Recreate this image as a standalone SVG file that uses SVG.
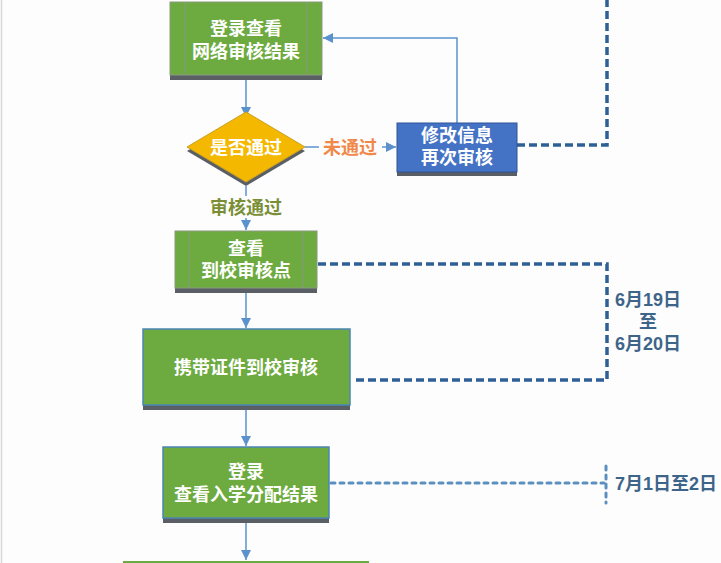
<svg xmlns="http://www.w3.org/2000/svg" width="721" height="563" viewBox="0 0 721 563">
<defs>
<marker id="arr" viewBox="0 0 10 10" refX="10" refY="5" markerWidth="10" markerHeight="10" markerUnits="userSpaceOnUse" orient="auto">
<path d="M0,0 L10,5 L0,10 Z" fill="#5B92CC"/>
</marker>
</defs>
<style>
.bg{fill:#FDFDFD}
.g{fill:#6DAA3F}
.gs{stroke:#8A9A80;stroke-width:1}
.gb{stroke:#4B86B4;stroke-width:1.5}
.sh{fill:#5A5F66}
.in{stroke:#889880;stroke-width:1;fill:none}
.t{font-family:"Liberation Sans","Noto Sans CJK SC",sans-serif;font-weight:bold;font-size:18px;text-anchor:middle;dominant-baseline:central}
.w{fill:#FFFFFF}
.c{fill:none;stroke:#5B92CC;stroke-width:1.5}
.d1{fill:none;stroke:#2E6096;stroke-width:3.5;stroke-dasharray:8 4}
.d2{fill:none;stroke:#5B8FC0;stroke-width:3;stroke-dasharray:4 5;stroke-linecap:round}
.date{fill:#3D6489}
</style>
<rect class="bg" x="0" y="0" width="721" height="563"/>
<line x1="1.5" y1="0" x2="1.5" y2="563" stroke="#D8DAD4" stroke-width="1.5"/>

<g id="connectors">
<line class="c" x1="246" y1="80" x2="246" y2="117" marker-end="url(#arr)"/>
<line class="c" x1="305" y1="147" x2="396" y2="147" marker-end="url(#arr)"/>
<rect x="319" y="136" width="63" height="22" class="bg"/>
<text class="t" x="350" y="148" fill="#F0884A">未通过</text>
<path class="c" d="M457,123 V38 H323" marker-end="url(#arr)"/>
<line class="c" x1="246" y1="186" x2="246" y2="230" marker-end="url(#arr)"/>
<rect x="205" y="196" width="82" height="22" class="bg"/>
<text class="t" x="246" y="208" fill="#7A8F35">审核通过</text>
<line class="c" x1="246" y1="293" x2="246" y2="328" marker-end="url(#arr)"/>
<line class="c" x1="246" y1="410" x2="246" y2="446" marker-end="url(#arr)"/>
<line class="c" x1="246" y1="523" x2="246" y2="560" marker-end="url(#arr)"/>
<path class="d1" d="M517,145 H607 V0"/>
<path class="d1" d="M318,264 H607 V380 H353"/>
<path class="d2" d="M331,483 H604"/>
<path class="d2" d="M606,466 V503"/>
</g>

<g id="n1">
<rect class="sh" x="170" y="6" width="152" height="74"/>
<rect class="g gs" x="170" y="2" width="152" height="73"/>
<line class="in" x1="185" y1="2" x2="185" y2="75"/>
<line class="in" x1="307" y1="2" x2="307" y2="75"/>
<text class="t w" x="246" y="29">登录查看</text>
<text class="t w" x="246" y="52">网络审核结果</text>
</g>

<g id="n2">
<path d="M187,151 L246,116 L305,151 L246,186 Z" fill="#5A5F66"/>
<path d="M187,147 L246,112 L305,147 L246,182 Z" fill="#F5B800" stroke="#C9A020" stroke-width="1"/>
<text class="t w" x="246" y="148">是否通过</text>
</g>

<g id="n3">
<rect x="397" y="127" width="120" height="49" fill="#5A5F66"/>
<rect x="397" y="123" width="120" height="49" fill="#4472C4" stroke="#2F5597" stroke-width="1"/>
<text class="t w" x="457" y="136">修改信息</text>
<text class="t w" x="457" y="158">再次审核</text>
</g>

<g id="n4">
<rect class="sh" x="175" y="235" width="142" height="58"/>
<rect class="g gs" x="175" y="231" width="142" height="57"/>
<line class="in" x1="189" y1="231" x2="189" y2="288"/>
<line class="in" x1="303" y1="231" x2="303" y2="288"/>
<text class="t w" x="246" y="249">查看</text>
<text class="t w" x="246" y="271">到校审核点</text>
</g>

<g id="n5">
<rect class="sh" x="143" y="334" width="207" height="76"/>
<rect class="g gb" x="143" y="329" width="207" height="76"/>
<text class="t w" x="246" y="368">携带证件到校审核</text>
</g>

<g id="n6">
<rect class="sh" x="163" y="452" width="166" height="71"/>
<rect class="g gb" x="163" y="447" width="166" height="71"/>
<text class="t w" x="246" y="472">登录</text>
<text class="t w" x="246" y="495">查看入学分配结果</text>
</g>

<g id="n7">
<rect class="g" x="123" y="561" width="246" height="4"/>
</g>

<g id="dates">
<text class="t date" x="648" y="300">6月19日</text>
<text class="t date" x="648" y="322">至</text>
<text class="t date" x="648" y="344">6月20日</text>
<text class="t date" x="666" y="484">7月1日至2日</text>
</g>
</svg>
